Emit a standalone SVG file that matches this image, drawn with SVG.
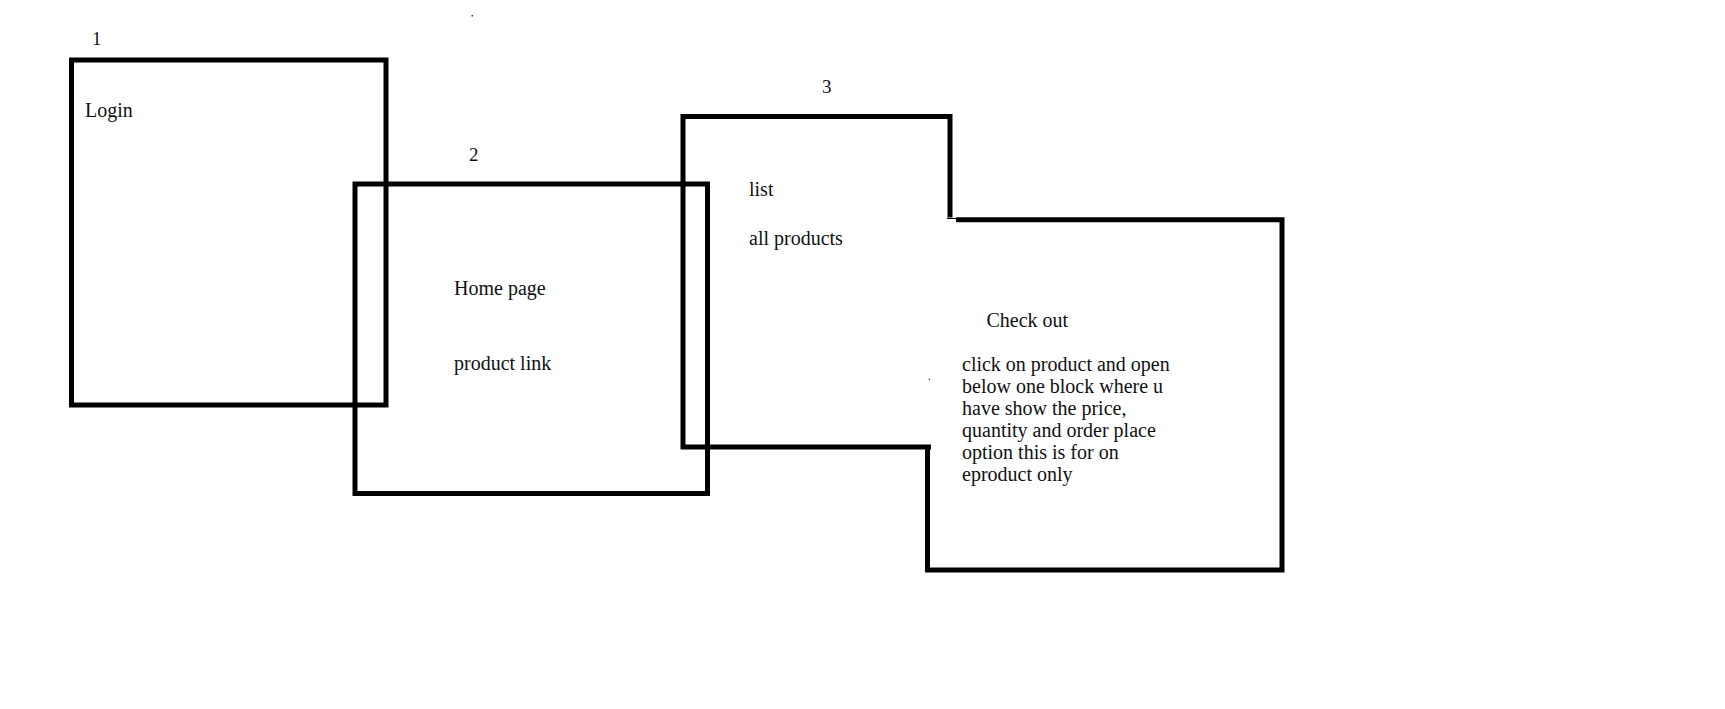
<svg xmlns="http://www.w3.org/2000/svg" width="1725" height="709" viewBox="0 0 1725 709">
<style>
.box{fill:none;stroke:#000;stroke-width:5;stroke-linejoin:miter;stroke-linecap:square}
.t{font-family:"Liberation Serif","Times New Roman",serif;font-size:20px;fill:#111}
.n{font-family:"Liberation Serif","Times New Roman",serif;font-size:19px;fill:#111}
</style>
<rect width="1725" height="709" fill="#fff"/>
<g id="connectors"></g>
<g id="node1">
<rect class="box" x="71.5" y="60" width="314.5" height="345"/>
<text class="n" x="92" y="45">1</text>
<text class="t" x="85" y="117">Login</text>
</g>
<g id="node2">
<rect class="box" x="355" y="184" width="352.5" height="309.5"/>
<text class="n" x="469" y="160.5">2</text>
<text class="t" x="454" y="295">Home page</text>
<text class="t" x="454" y="370">product link</text>
</g>
<g id="node3">
<path class="box" style="stroke-linecap:butt" d="M950 217.5 L950 116.5 L683 116.5 L683 447 L931 447"/>
<text class="n" x="822" y="92.5">3</text>
<text class="t" x="749" y="196">list</text>
<text class="t" x="749" y="245">all products</text>
</g>
<g id="node4">
<path class="box" style="stroke-linecap:butt" d="M956 219.8 L1282 219.8 L1282 570 L927.5 570 L927.5 447"/>
<line x1="947" y1="218.5" x2="957" y2="218.5" stroke="#000" stroke-width="1"/>
<text class="t" x="986.5" y="327">Check out</text>
<text class="t" x="962" y="370.5">click on product and open</text>
<text class="t" x="962" y="392.5">below one block where u</text>
<text class="t" x="962" y="414.5">have show the price,</text>
<text class="t" x="962" y="436.5">quantity and order place</text>
<text class="t" x="962" y="458.5">option this is for on</text>
<text class="t" x="962" y="480.5">eproduct only</text>
</g>
<rect x="471.5" y="15" width="1.5" height="1.5" fill="#333"/>
<rect x="928.7" y="378.7" width="1.3" height="1.3" fill="#333"/>
</svg>
